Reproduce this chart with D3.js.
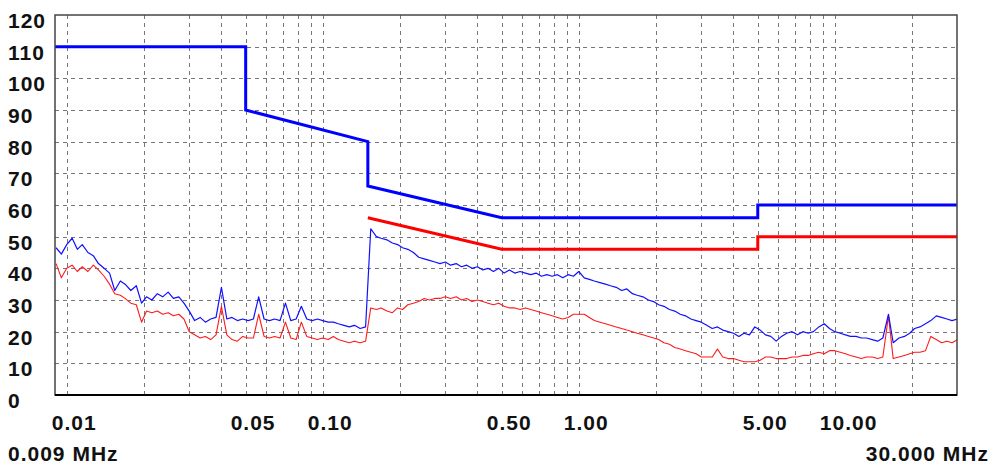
<!DOCTYPE html>
<html lang="en">
<head>
  <meta charset="UTF-8">
  <title>Conducted emission scan</title>
  <script src="https://d3js.org/d3.v7.min.js"></script>
  <style>
    body {
      margin: 0;
      background-color: #fff;
    }
    svg text {
      font-family: "Liberation Sans", Arial, sans-serif;
      font-weight: bold;
      font-size: 21px;
      letter-spacing: 1px;
      fill: #111;
    }
  </style>
</head>
<body>
<div id="chart"></div>

<script>
// sweep grid: E48 mantissas in each decade (MHz)
const e48 = [1.00, 1.05, 1.10, 1.15, 1.21, 1.27, 1.33, 1.40, 1.47, 1.54, 1.62, 1.69,
  1.78, 1.87, 1.96, 2.05, 2.15, 2.26, 2.37, 2.49, 2.61, 2.74, 2.87, 3.01,
  3.16, 3.32, 3.48, 3.65, 3.83, 4.02, 4.22, 4.42, 4.64, 4.87, 5.11, 5.36,
  5.62, 5.90, 6.19, 6.49, 6.81, 7.15, 7.50, 7.87, 8.25, 8.66, 9.09, 9.53];
const decades = [0.001, 0.01, 0.1, 1, 10];

// peak detector trace (dBuV), blue
const peakVals = [
  46.5, 44.5,
  47.5, 49.5, 46, 47.5, 45, 44, 41.5, 40, 38.5, 33, 36, 35, 33, 34.5, 29, 31, 30, 32, 31, 32.5, 30.5, 31, 29, 26.5,
  23.5, 24.5, 23, 24, 24.5, 34, 24, 24.5, 23.5, 24, 23.5, 24, 31, 24, 23.5, 24, 23.5, 29, 23.5, 24, 28, 24, 23.5, 24,
  23.5, 23, 23, 22.5, 22, 21.5, 22, 21, 21.5, 52.5, 50, 49.5, 49, 48, 47.5, 46.5, 46, 45, 43.5, 43, 42.5, 42, 41.5, 42,
  41, 41.5, 40.5, 41, 40, 40.5, 39.5, 40, 39, 40, 38.5, 39.5, 38.5, 39, 38.5, 38, 38.5, 37.5, 38, 37.5, 38, 37, 38, 37.5,
  39, 37, 36.5, 36, 35.5, 35, 34.5, 34, 33, 33.5, 32, 31.5, 31, 30, 29.5, 28.5, 28, 27, 26.5, 25.5, 25, 24, 23.5, 23,
  22, 21, 21.5, 20.5, 20, 19.5, 18.5, 19.5, 19, 21.5, 20.5, 19, 18.5, 17, 18.5, 19.5, 20, 19, 20, 19.5, 20, 21.5, 22.5, 21,
  20, 19.5, 19, 18.5, 18.5, 18, 18, 17.5, 17, 18, 25.5, 16.5, 18, 18.5, 19.5, 21, 21.5, 22.5, 23.5, 25, 24.5, 24, 23.5, 24
];

// average detector trace (dBuV), red
const avgVals = [
  41.5, 37,
  40, 41, 39, 40.5, 39, 41, 39.5, 37.5, 35, 32, 31.5, 30.5, 29, 28.5, 23, 26.5, 26, 26.5, 25.5, 26, 25, 25.5, 24, 20,
  19, 18, 18.5, 17.5, 19, 28, 19, 17.5, 17, 18.5, 18, 18, 25.5, 18.5, 18, 18.5, 18, 23, 18, 17.5, 23, 18.5, 18, 17.5,
  18, 17.5, 18.5, 17.5, 17, 16.5, 17, 16.5, 17, 27.5, 27, 27.5, 26.5, 26, 27.5, 27, 28.5, 29, 29.5, 30.5, 30, 30.5, 30.5, 31,
  30.5, 31, 30, 30.5, 29.5, 30, 29.5, 29, 28.5, 29, 28, 27.5, 27.5, 27, 27.5, 27, 26.5, 26, 25.5, 25, 24.5, 24, 24.5, 25.5,
  25.5, 25.5, 24.5, 23.5, 23, 22.5, 22, 21.5, 21, 20.5, 20, 19.5, 19, 18.5, 18, 17.5, 16.5, 16, 15, 14.5, 14, 13.5, 13, 12,
  12, 12, 14.5, 12, 11.5, 11.5, 11, 10.5, 10.5, 10.5, 11, 12, 12, 11.5, 11.5, 11.5, 12, 12, 12.5, 12.5, 13, 13.5, 13, 14,
  14, 13.5, 13, 12.5, 12, 11.5, 12, 12, 11.5, 12, 25, 11.5, 12, 12.5, 13, 13.5, 13.5, 14, 18.5, 17.5, 16.5, 17, 16.5, 17.5
];

// limit lines
const qpLimitFreq = [0.009, 0.05, 0.05, 0.15, 0.15, 0.5, 5, 5, 30];
const qpLimitVals = [110, 110, 90, 80, 66, 56, 56, 60, 60];
const avLimitFreq = [0.15, 0.5, 5, 5, 30];
const avLimitVals = [56, 46, 46, 50, 50];

// axis labels
const xTickVals = [0.01, 0.05, 0.1, 0.5, 1, 5, 10];
const xTickText = ["0.01", "0.05", "0.10", "0.50", "1.00", "5.00", "10.00"];
const yTickVals = [0, 10, 20, 30, 40, 50, 60, 70, 80, 90, 100, 110, 120];
const startLabel = "0.009 MHz";
const stopLabel = "30.000 MHz";

const width = 993, height = 465;
const plotL = 55, plotR = 957, plotT = 15, plotB = 395;

const x = d3.scaleLog().domain([0.009, 30]).range([plotL, plotR]);
const y = d3.scaleLinear().domain([0, 120]).range([plotB, plotT]);

const sweepFreq = decades
  .flatMap(d => e48.map(m => +(m * d).toPrecision(3)))
  .filter(f => f >= 0.0089 && f <= 30.2);

const peak = sweepFreq.map((f, i) => [f, peakVals[i]]).filter(d => d[1] != null);
const avg = sweepFreq.map((f, i) => [f, avgVals[i]]).filter(d => d[1] != null);

const svg = d3.select("#chart").append("svg")
  .attr("width", width)
  .attr("height", height);

svg.append("defs").append("clipPath").attr("id", "plot")
  .append("rect")
  .attr("x", plotL).attr("y", plotT)
  .attr("width", plotR - plotL).attr("height", plotB - plotT);

// grid: every 1..9 step per decade
const gridFreq = decades.flatMap(d => [1, 2, 3, 4, 5, 6, 7, 8, 9].map(m => m * d))
  .filter(f => f > 0.0091 && f < 29.9);

const grid = svg.append("g")
  .attr("stroke", "#777")
  .attr("stroke-width", 1)
  .attr("stroke-dasharray", "4,4");

grid.selectAll("line.v")
  .data(gridFreq)
  .enter().append("line")
  .attr("class", "v")
  .attr("x1", d => Math.round(x(d)) + 0.5)
  .attr("x2", d => Math.round(x(d)) + 0.5)
  .attr("y1", plotT)
  .attr("y2", plotB);

grid.selectAll("line.h")
  .data(yTickVals.filter(v => v > 0 && v < 120))
  .enter().append("line")
  .attr("class", "h")
  .attr("x1", plotL)
  .attr("x2", plotR)
  .attr("y1", d => Math.round(y(d)) + 0.5)
  .attr("y2", d => Math.round(y(d)) + 0.5);

const line = d3.line()
  .x(d => x(d[0]))
  .y(d => y(d[1]));

const plot = svg.append("g").attr("clip-path", "url(#plot)");

plot.append("path")
  .datum(avg)
  .attr("d", line)
  .attr("fill", "none")
  .attr("stroke", "#ff1a1a")
  .attr("stroke-width", 1.1)
  .attr("stroke-linejoin", "round");

plot.append("path")
  .datum(peak)
  .attr("d", line)
  .attr("fill", "none")
  .attr("stroke", "#1010ff")
  .attr("stroke-width", 1.2)
  .attr("stroke-linejoin", "round");

plot.append("path")
  .datum(avLimitFreq.map((f, i) => [f, avLimitVals[i]]))
  .attr("d", line)
  .attr("fill", "none")
  .attr("stroke", "#ff0000")
  .attr("stroke-width", 3);

plot.append("path")
  .datum(qpLimitFreq.map((f, i) => [f, qpLimitVals[i]]))
  .attr("d", line)
  .attr("fill", "none")
  .attr("stroke", "#0000ff")
  .attr("stroke-width", 3);

// frame
svg.append("rect")
  .attr("x", plotL).attr("y", plotT)
  .attr("width", plotR - plotL).attr("height", plotB - plotT)
  .attr("fill", "none")
  .attr("stroke", "#444")
  .attr("stroke-width", 1.5);

svg.append("line")
  .attr("x1", plotL).attr("x2", plotR)
  .attr("y1", plotB).attr("y2", plotB)
  .attr("stroke", "#000")
  .attr("stroke-width", 2);

// y labels (left aligned)
svg.selectAll("text.ylab")
  .data(yTickVals)
  .enter().append("text")
  .attr("class", "ylab")
  .attr("x", 8)
  .attr("y", d => y(d) + 13)
  .text(d => d);

// x labels
svg.selectAll("text.xlab")
  .data(xTickVals)
  .enter().append("text")
  .attr("class", "xlab")
  .attr("x", d => x(d) - 15)
  .attr("y", 430)
  .text((d, i) => xTickText[i]);

svg.append("text")
  .attr("x", 8)
  .attr("y", 461)
  .text(startLabel);

svg.append("text")
  .attr("x", 989)
  .attr("y", 461)
  .attr("text-anchor", "end")
  .text(stopLabel);
</script>
</body>
</html>
